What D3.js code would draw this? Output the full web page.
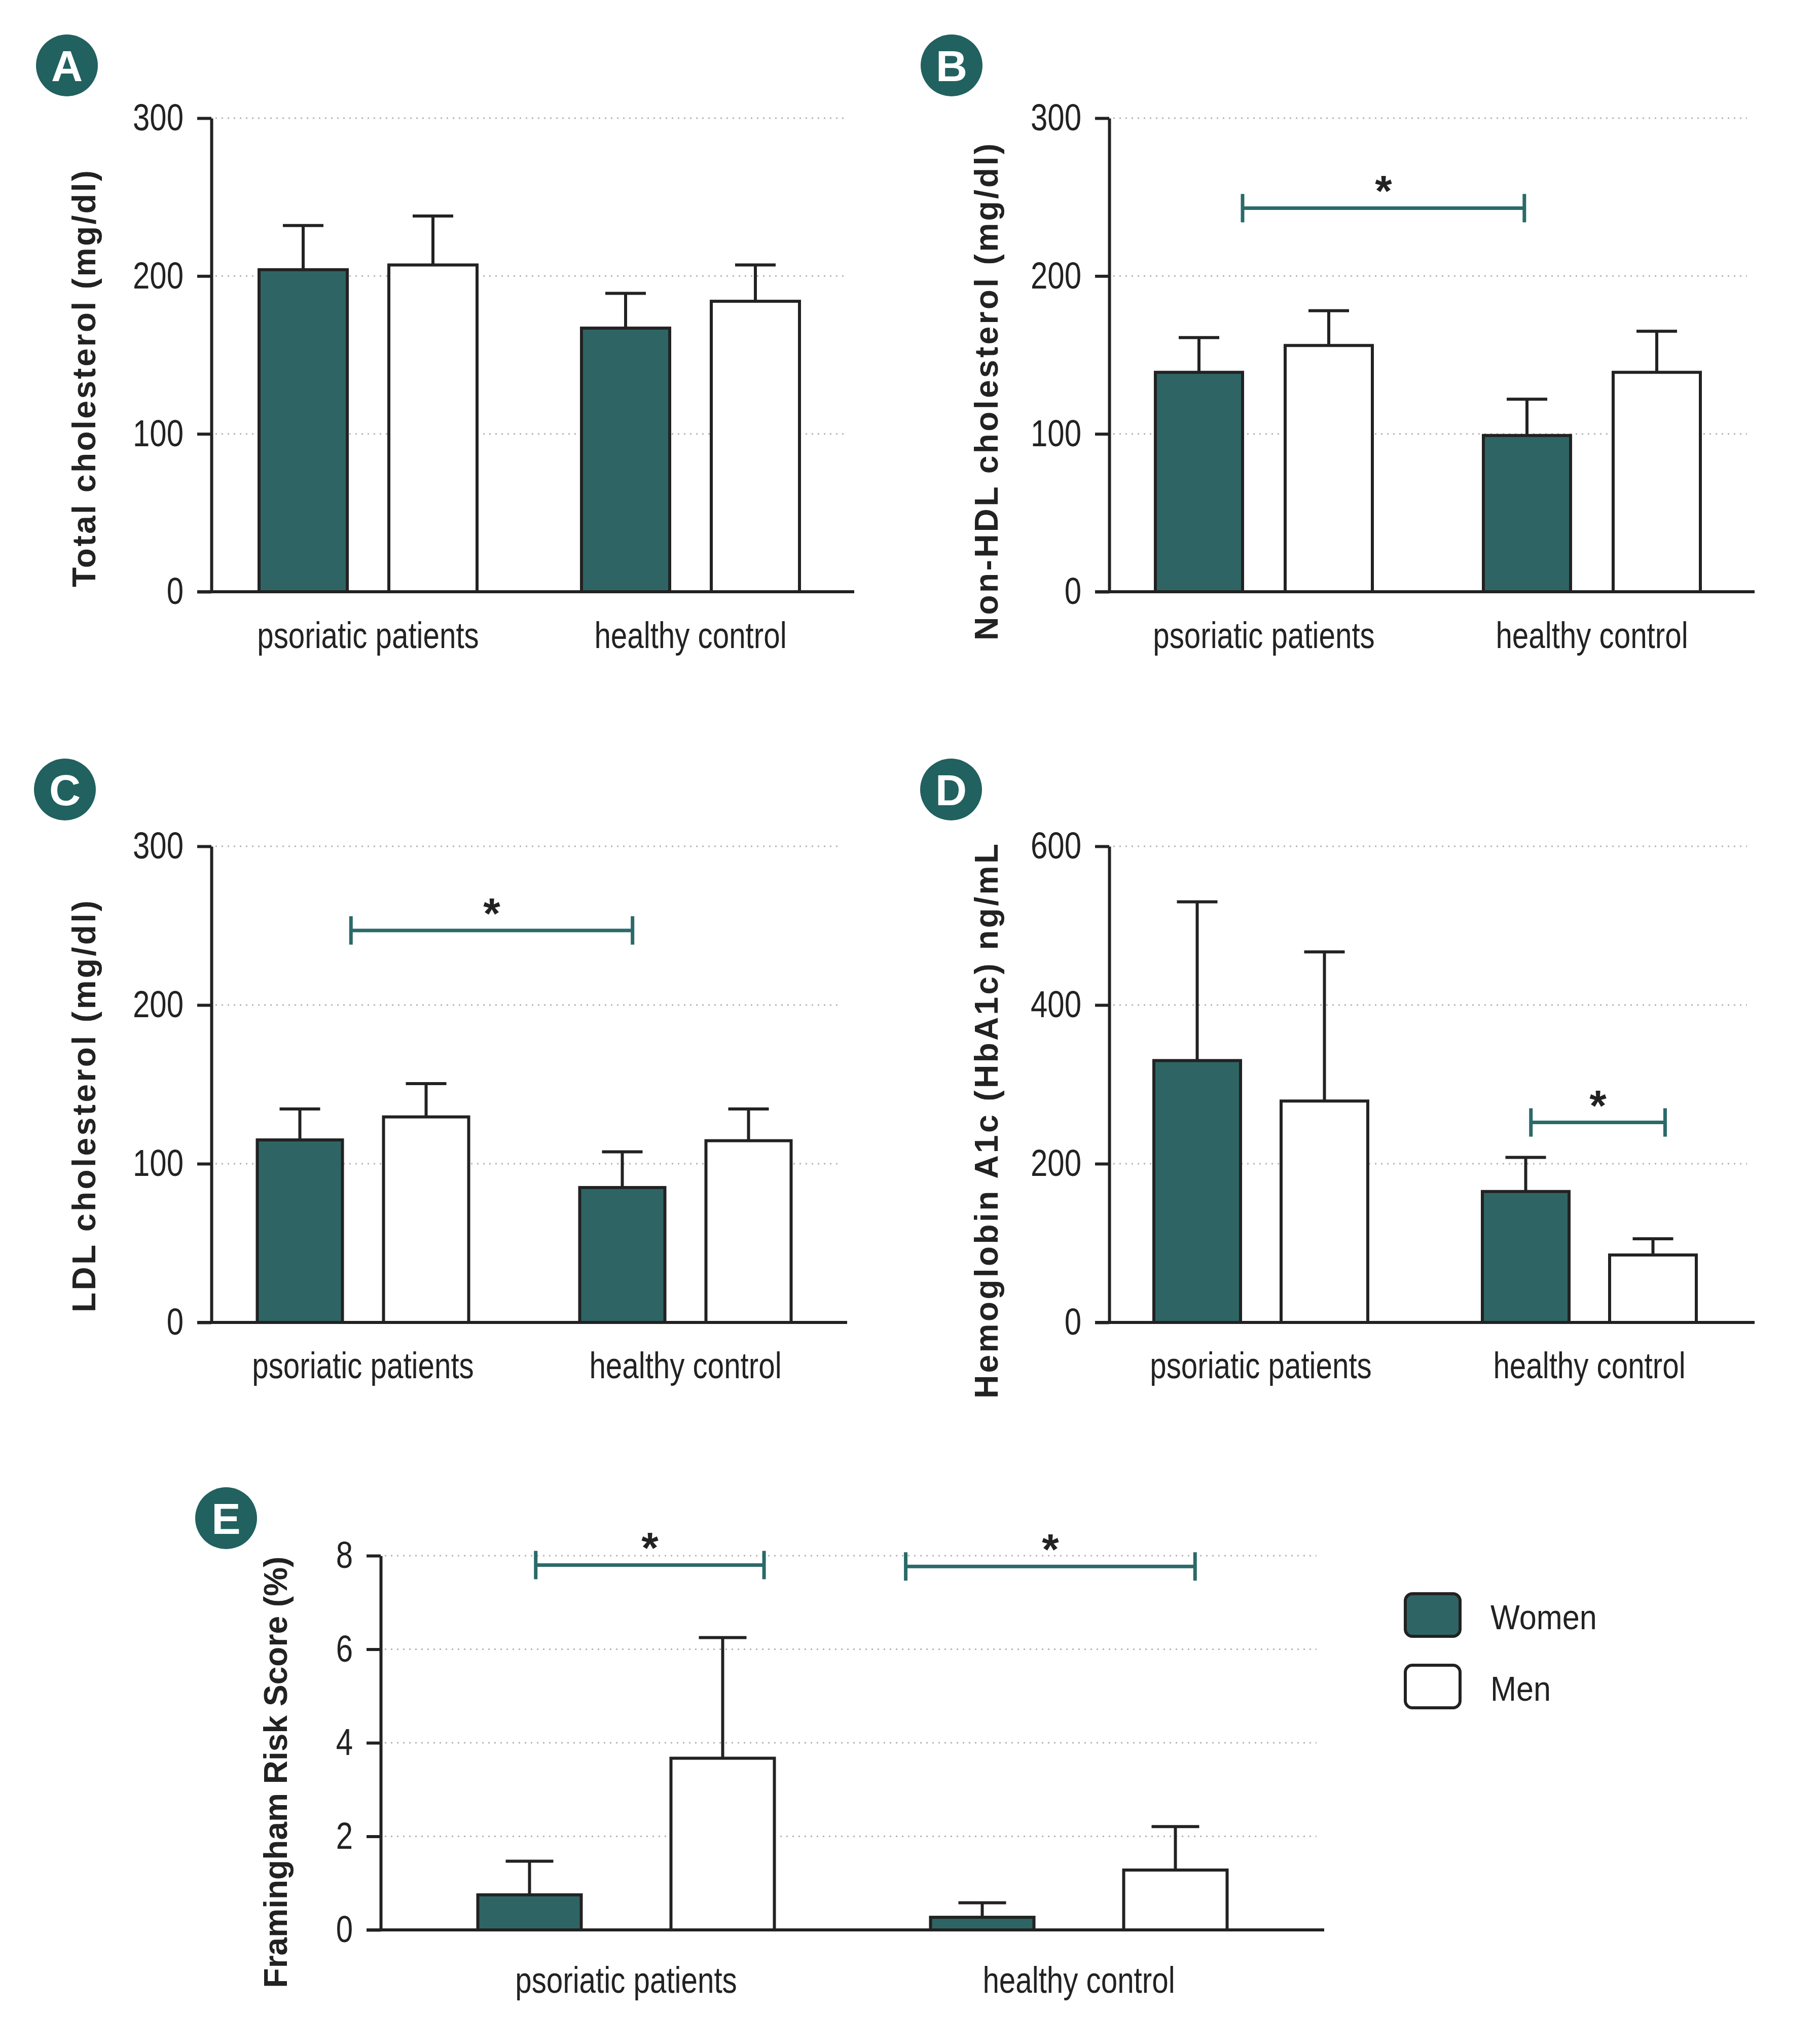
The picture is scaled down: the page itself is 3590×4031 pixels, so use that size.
<!DOCTYPE html>
<html>
<head>
<meta charset="utf-8">
<script src="https://cdn.jsdelivr.net/npm/d3@7"></script>
<style>
  html, body { margin: 0; padding: 0; background: #fff; }
  svg { display: block; }
</style>
</head>
<body>
<div id="chart"></div>
<script>
// Lipid / HbA1c / Framingham bar panels, women vs men, psoriatic vs healthy.
const GROUPS = ['psoriatic patients', 'healthy control'];
const SERIES = ['Women', 'Men'];

// Values per group (psoriatic, healthy); sd = length of the upper error bar
const totalWomen = [204, 167];
const totalWomenSd = [28, 22];
const totalMen = [207, 184];
const totalMenSd = [31, 23];

const nonHdlWomen = [139, 99];
const nonHdlWomenSd = [22, 23];
const nonHdlMen = [156, 139];
const nonHdlMenSd = [22, 26];

const ldlWomen = [115, 85];
const ldlWomenSd = [19.5, 22.5];
const ldlMen = [129.5, 114.5];
const ldlMenSd = [21, 20];

const hba1cWomen = [330, 165];
const hba1cWomenSd = [200, 43];
const hba1cMen = [279, 85];
const hba1cMenSd = [188, 20.5];

const framWomen = [0.75, 0.27];
const framWomenSd = [0.72, 0.31];
const framMen = [3.67, 1.28];
const framMenSd = [2.58, 0.93];

const ticks300 = [0, 100, 200, 300];
const ticks600 = [0, 200, 400, 600];
const ticks8 = [0, 2, 4, 6, 8];

// significance brackets: [group, series, position across bar (0 left .. 1 right)]
const nonHdlBrackets = [{ from: [0, 'Women', 1.0], to: [1, 'Women', 0.47], value: 243 }];
const ldlBrackets = [{ from: [0, 'Women', 1.1], to: [1, 'Women', 0.62], value: 247 }];
const hba1cBrackets = [{ from: [1, 'Women', 0.56], to: [1, 'Men', 0.64], value: 252 }];
const framBrackets = [
  { from: [0, 'Women', 0.56], to: [0, 'Men', 0.9], value: 7.8 },
  { from: [1, 'Women', -0.24], to: [1, 'Men', 0.69], value: 7.77 },
];

const TEAL = '#2e6564';
const BRACKET = '#2b6a69';
const INK = '#222';
const SANS = "'Liberation Sans', Arial, sans-serif";
const CONDENSE = 0.81; // no narrow face installed, squeeze regular glyphs instead

const W = 3590, H = 4031;
const svg = d3.select('#chart').append('svg').attr('width', W).attr('height', H);
svg.append('rect').attr('width', W).attr('height', H).attr('fill', '#fff');

function rows(women, womenSd, men, menSd) {
  return GROUPS.map((g, i) => ({
    group: g,
    bars: [
      { series: 'Women', value: women[i], sd: womenSd[i] },
      { series: 'Men', value: men[i], sd: menSd[i] },
    ],
  }));
}

const panels = [
  { letter: 'A', data: rows(totalWomen, totalWomenSd, totalMen, totalMenSd), max: 300, ticks: ticks300,
    left: 417, right: 1685, top: 233, bottom: 1167, groupAt: [726, 1362], barW: 174, step: 256, capW: 80,
    title: 'Total cholesterol (mg/dl)', titleX: 188, titleY: 747, titleLen: 822,
    circle: [132, 129], labelGap: 111, brackets: [] },
  { letter: 'B', data: rows(nonHdlWomen, nonHdlWomenSd, nonHdlMen, nonHdlMenSd), max: 300, ticks: ticks300,
    left: 2188, right: 3461, top: 233, bottom: 1167, groupAt: [2493, 3140], barW: 172, step: 256, capW: 80,
    title: 'Non-HDL cholesterol (mg/dl)', titleX: 1968, titleY: 773, titleLen: 980,
    circle: [1877, 129], labelGap: 111, brackets: nonHdlBrackets },
  { letter: 'C', data: rows(ldlWomen, ldlWomenSd, ldlMen, ldlMenSd), max: 300, ticks: ticks300,
    left: 417, right: 1671, top: 1669, bottom: 2608, groupAt: [716, 1352], barW: 168, step: 249, capW: 80,
    title: 'LDL cholesterol (mg/dl)', titleX: 188, titleY: 2182, titleLen: 812,
    circle: [128, 1557], labelGap: 110, brackets: ldlBrackets },
  { letter: 'D', data: rows(hba1cWomen, hba1cWomenSd, hba1cMen, hba1cMenSd), max: 600, ticks: ticks600,
    left: 2188, right: 3461, top: 1669, bottom: 2608, groupAt: [2487, 3135], barW: 171, step: 251, capW: 80,
    title: 'Hemoglobin A1c (HbA1c) ng/mL', titleX: 1968, titleY: 2211, titleLen: 1094,
    circle: [1876, 1557], labelGap: 110, brackets: hba1cBrackets },
  { letter: 'E', data: rows(framWomen, framWomenSd, framMen, framMenSd), max: 8, ticks: ticks8,
    left: 751, right: 2612, top: 3068, bottom: 3806, groupAt: [1235, 2128], barW: 204, step: 381, capW: 94,
    title: 'Framingham Risk Score (%)', titleX: 566, titleY: 3495, titleLen: 851,
    circle: [446, 2994], labelGap: 124, brackets: framBrackets },
];

panels.forEach(drawPanel);

function drawPanel(p) {
  const g = svg.append('g').attr('class', 'panel-' + p.letter);

  const y = d3.scaleLinear().domain([0, p.max]).range([p.bottom, p.top]);
  const xg = d3.scalePoint().domain(GROUPS).range(p.groupAt);
  const xs = d3.scaleBand().domain(SERIES)
    .range([-p.step / 2 - p.barW / 2, p.step / 2 + p.barW / 2])
    .paddingInner(1 - p.barW / p.step);

  // dotted grid (no line on the baseline)
  g.append('g').selectAll('line')
    .data(p.ticks.filter(t => t > 0))
    .join('line')
    .attr('x1', p.left + 8).attr('x2', p.right - 15)
    .attr('y1', d => y(d)).attr('y2', d => y(d))
    .attr('stroke', '#b4b4b4').attr('stroke-width', 3)
    .attr('stroke-dasharray', '3 9');

  // bars
  const grp = g.append('g').selectAll('g')
    .data(p.data)
    .join('g')
    .attr('transform', d => `translate(${xg(d.group)},0)`);

  const mid = d => xs(d.series) + xs.bandwidth() / 2;

  grp.selectAll('line.err')
    .data(d => d.bars)
    .join('line')
    .attr('class', 'err')
    .attr('x1', mid).attr('x2', mid)
    .attr('y1', d => y(d.value))
    .attr('y2', d => y(d.value + d.sd))
    .attr('stroke', INK).attr('stroke-width', 6);

  grp.selectAll('line.cap')
    .data(d => d.bars)
    .join('line')
    .attr('class', 'cap')
    .attr('x1', d => mid(d) - p.capW / 2)
    .attr('x2', d => mid(d) + p.capW / 2)
    .attr('y1', d => y(d.value + d.sd))
    .attr('y2', d => y(d.value + d.sd))
    .attr('stroke', INK).attr('stroke-width', 6);

  grp.selectAll('rect')
    .data(d => d.bars)
    .join('rect')
    .attr('x', d => xs(d.series))
    .attr('width', xs.bandwidth())
    .attr('y', d => y(d.value))
    .attr('height', d => y(0) - y(d.value))
    .attr('fill', d => d.series === 'Women' ? TEAL : '#fff')
    .attr('stroke', INK).attr('stroke-width', 6);

  // y axis
  const axis = g.append('g')
    .attr('transform', `translate(${p.left},0)`)
    .call(d3.axisLeft(y).tickValues(p.ticks).tickSize(28).tickSizeOuter(0).tickPadding(27));
  axis.select('.domain').attr('stroke', INK).attr('stroke-width', 6);
  axis.selectAll('.tick line').attr('stroke', INK).attr('stroke-width', 6);
  axis.selectAll('.tick text')
    .attr('x', 0)
    .attr('transform', `translate(-55,0) scale(${CONDENSE},1)`)
    .attr('fill', INK)
    .style('font-family', SANS)
    .style('font-size', '74px');

  // baseline
  g.append('line')
    .attr('x1', p.left - 28).attr('x2', p.right)
    .attr('y1', y(0)).attr('y2', y(0))
    .attr('stroke', INK).attr('stroke-width', 6);

  // group labels
  g.append('g').selectAll('text')
    .data(GROUPS)
    .join('text')
    .attr('transform', d => `translate(${xg(d)},${y(0) + p.labelGap}) scale(${CONDENSE},1)`)
    .attr('text-anchor', 'middle')
    .attr('fill', INK)
    .style('font-family', SANS)
    .style('font-size', '72px')
    .text(d => d);

  // y title
  g.append('text')
    .attr('transform', `translate(${p.titleX},${p.titleY}) rotate(-90)`)
    .attr('text-anchor', 'middle')
    .attr('textLength', p.titleLen)
    .attr('lengthAdjust', 'spacing')
    .attr('fill', INK)
    .style('font-family', SANS)
    .style('font-weight', 'bold')
    .style('font-size', '64px')
    .text(p.title);

  // significance brackets
  const barX = ([gi, s, f]) => xg(GROUPS[gi]) + xs(s) + f * xs.bandwidth();
  const br = g.append('g').selectAll('g')
    .data(p.brackets)
    .join('g');
  br.append('line')
    .attr('x1', d => barX(d.from)).attr('x2', d => barX(d.to))
    .attr('y1', d => y(d.value)).attr('y2', d => y(d.value))
    .attr('stroke', BRACKET).attr('stroke-width', 7);
  br.selectAll('line.end')
    .data(d => [d.from, d.to].map(e => ({ x: barX(e), v: d.value })))
    .join('line')
    .attr('class', 'end')
    .attr('x1', d => d.x).attr('x2', d => d.x)
    .attr('y1', d => y(d.v) - 28).attr('y2', d => y(d.v) + 28)
    .attr('stroke', BRACKET).attr('stroke-width', 7);
  br.append('text')
    .attr('x', d => (barX(d.from) + barX(d.to)) / 2)
    .attr('y', d => y(d.value) - 4)
    .attr('text-anchor', 'middle')
    .attr('fill', INK)
    .style('font-family', SANS)
    .style('font-weight', 'bold')
    .style('font-size', '86px')
    .text('*');

  // panel letter
  const c = g.append('g').attr('transform', `translate(${p.circle[0]},${p.circle[1]})`);
  c.append('circle').attr('r', 61).attr('fill', '#21615f');
  c.append('text')
    .attr('text-anchor', 'middle')
    .attr('dy', '0.36em')
    .attr('fill', '#fff')
    .style('font-family', SANS)
    .style('font-weight', 'bold')
    .style('font-size', '86px')
    .text(p.letter);
}

// legend
const legend = svg.append('g').attr('class', 'legend');
const legendRows = legend.selectAll('g')
  .data(SERIES)
  .join('g')
  .attr('transform', (d, i) => `translate(2772,${3143 + i * 141})`);
legendRows.append('rect')
  .attr('width', 108).attr('height', 84).attr('rx', 14)
  .attr('fill', d => d === 'Women' ? TEAL : '#fff')
  .attr('stroke', INK).attr('stroke-width', 6);
legendRows.append('text')
  .attr('transform', `translate(168,70) scale(0.9,1)`)
  .attr('fill', INK)
  .style('font-family', SANS)
  .style('font-size', '68px')
  .text(d => d);
</script>
</body>
</html>
